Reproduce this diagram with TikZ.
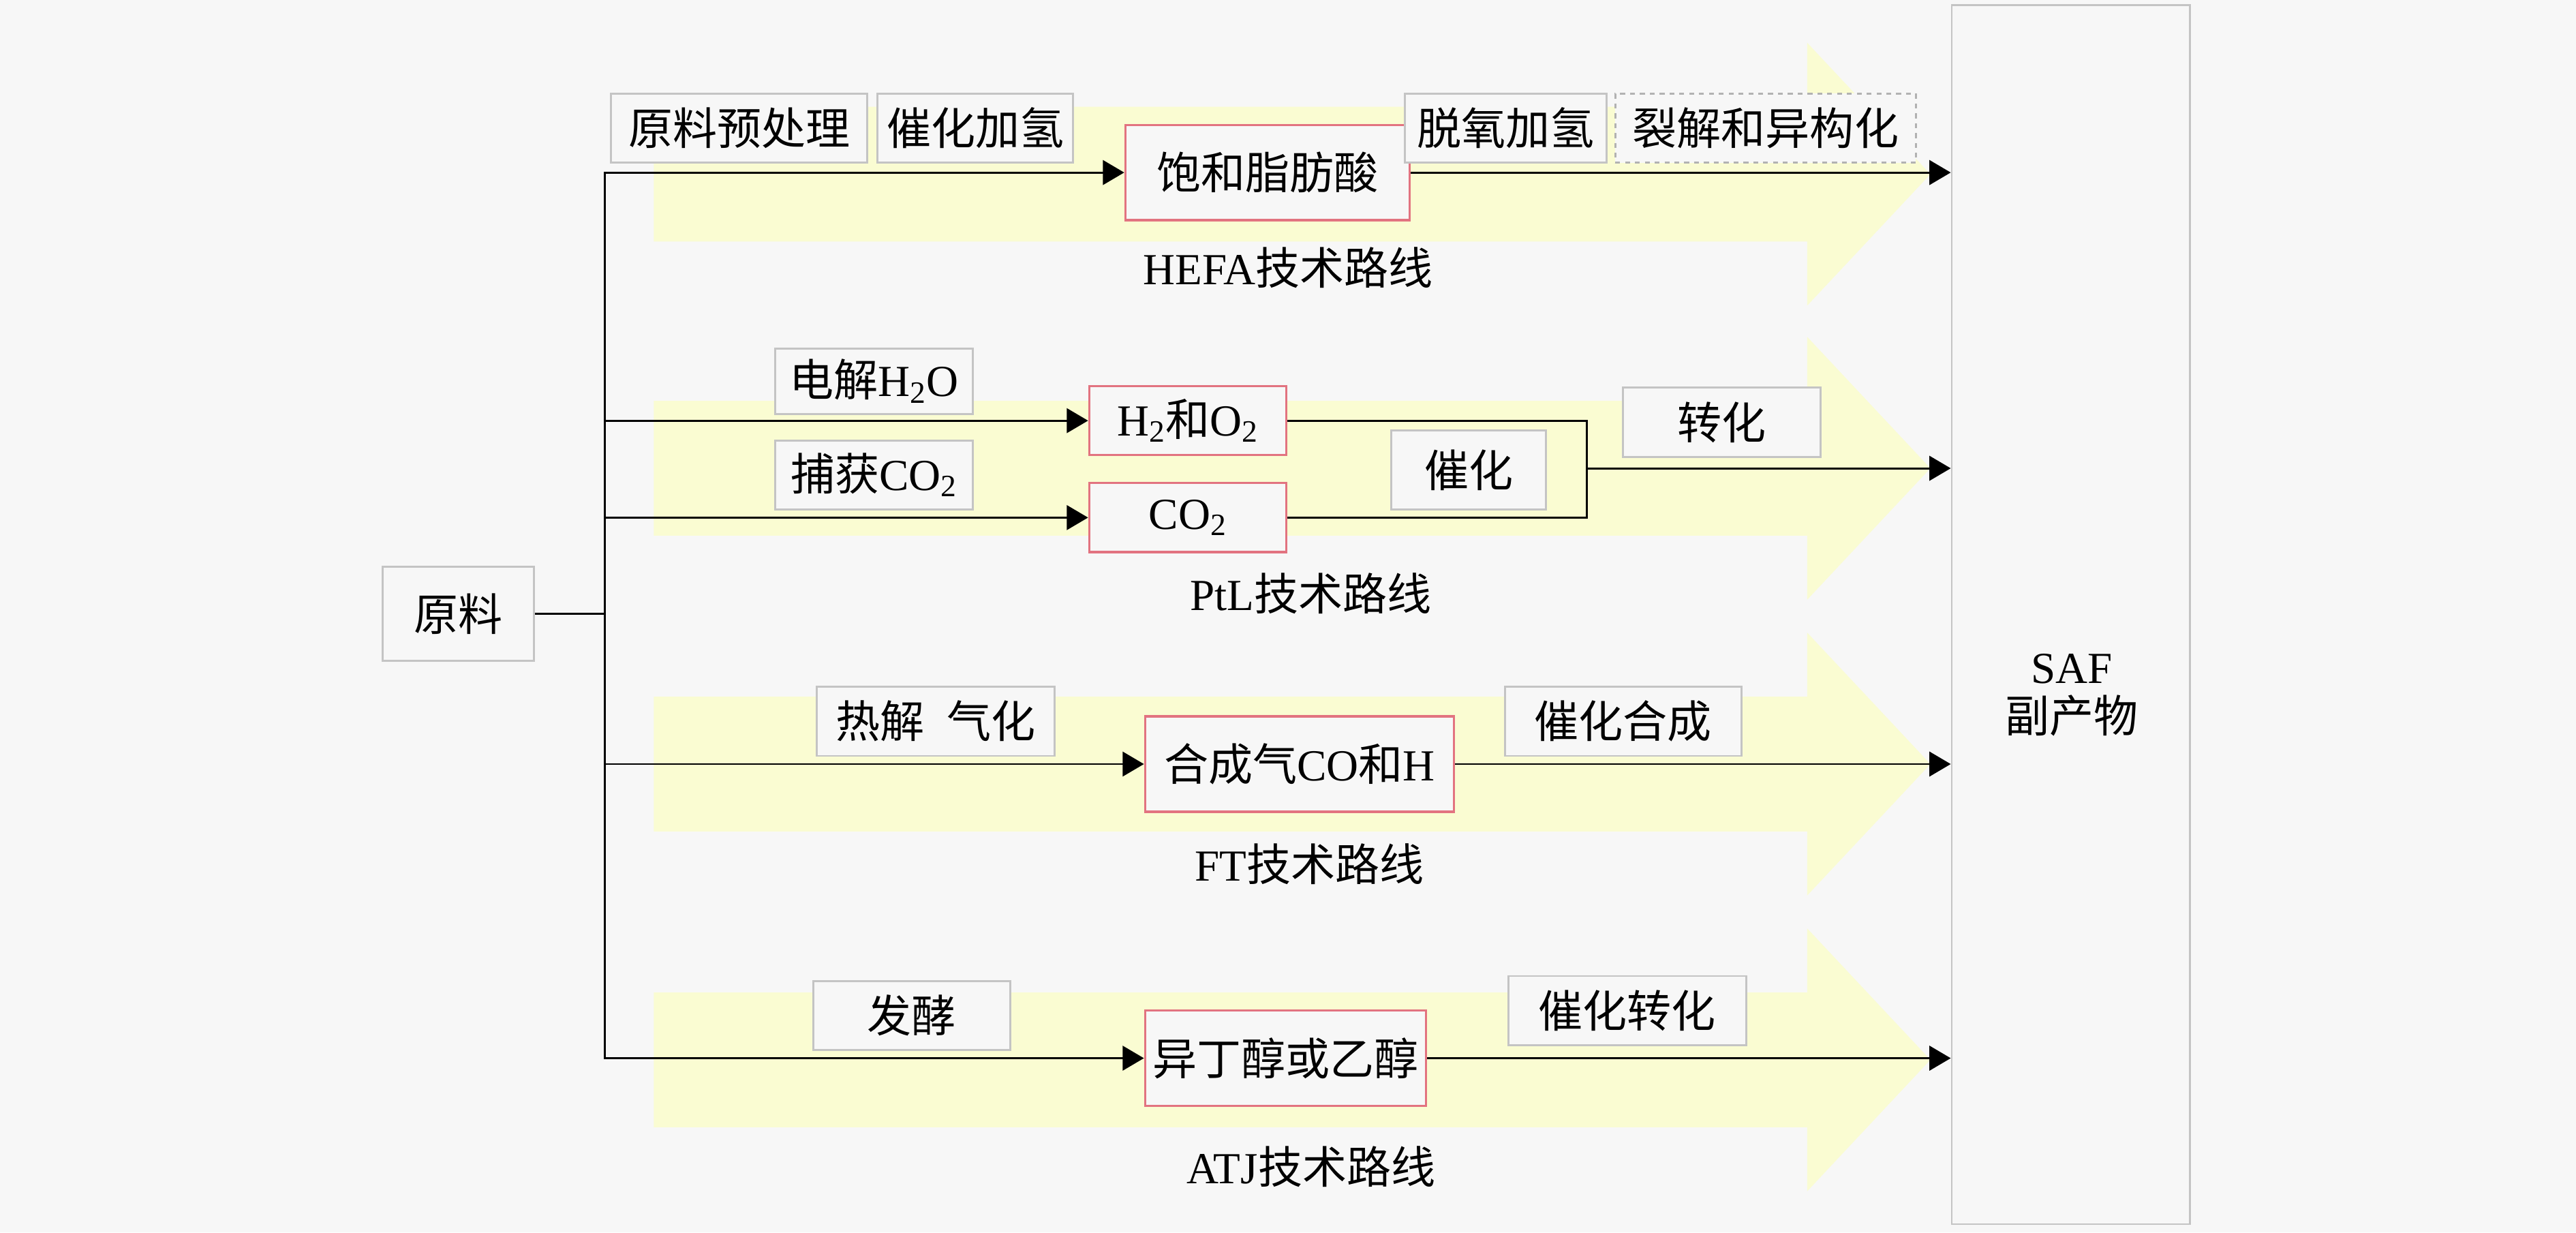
\documentclass[tikz,border=0pt]{standalone}
\usepackage{fontspec}
\setmainfont{Liberation Serif}
\newfontfamily\cjk{Noto Sans CJK SC}
\usetikzlibrary{arrows.meta,positioning}
\definecolor{pagebg}{HTML}{F7F7F7}
\definecolor{bandyellow}{HTML}{FAFCD2}
\definecolor{boxred}{HTML}{E27380}
\definecolor{boxgray}{HTML}{C4C4C4}
\newcommand\lat[1]{{\rmfamily #1}}
\tikzset{
% Step labels get a gray frame, intermediate products a red one
step box/.style={rectangle,draw=boxgray,line width=1.2,fill=pagebg,inner sep=0,minimum height=42},
product box/.style={rectangle,draw=boxred,line width=1.4,fill=pagebg,inner sep=0,minimum height=58},
route label/.style={inner sep=0},
flow/.style={line width=1.2},
flow arrow/.style={flow,-{Triangle[length=13,width=15]}}
}

\begin{document}
\begin{tikzpicture}[x=1pt,y=-1pt,font=\cjk\fontsize{27}{30}\selectfont]
  \useasboundingbox (0,0) rectangle (1568,750);
  \fill[pagebg] (0,0) rectangle (1568,750);
  % yellow route arrows
  \foreach \y in {106,285,465,645}
    \fill[bandyellow] (398,\y-41) -- (1100,\y-41) -- (1100,\y-80) -- (1175,\y)
      -- (1100,\y+80) -- (1100,\y+41) -- (398,\y+41) -- cycle;

  \node[step box, minimum width=92, minimum height=57] (raw) at (279,373.5) {原料};
  \node[rectangle, draw=boxgray, line width=1.2, fill=pagebg, inner sep=0,
    minimum width=145, minimum height=742] (saf) at (1260.5,374) {};
  \node[route label, align=center] (saftext) at (1261,423) {\lat{SAF}\\副产物};

  % HEFA
  \node[step box, minimum width=156] (pretreat) at (450,78) {原料预处理};
  \node[step box, minimum width=119, right=5pt of pretreat] (hydro) {催化加氢};
  \node[product box, minimum width=173] (fa) at (771.5,105) {饱和脂肪酸};
  \node[step box, minimum width=123] (deox) at (916.5,78) {脱氧加氢};
  \node[step box, dashed, draw=gray!60, minimum width=183, right=4pt of deox] (crack) {裂解和异构化};
  \node[route label] (hefa) at (784,163) {\lat{HEFA}技术路线};

  % PtL
  \node[step box, minimum width=120, minimum height=40] (elec) at (532,232) {电解\lat{H\textsubscript{2}O}};
  \node[step box, minimum width=120] (capture) at (532,289) {捕获\lat{CO\textsubscript{2}}};
  \node[product box, minimum width=120, minimum height=42] (h2) at (723,256) {\lat{H\textsubscript{2}}和\lat{O\textsubscript{2}}};
  \node[product box, minimum width=120, minimum height=42] (co2) at (723,315) {\lat{CO\textsubscript{2}}};
  \node[step box, minimum width=94, minimum height=48] (cat) at (894,286) {催化};
  \node[step box, minimum width=120] (conv) at (1048,257) {转化};
  \node[route label] (ptl) at (798,361) {\lat{PtL}技术路线};
  \coordinate (merge) at (966,285);

  % FT
  \node[step box, minimum width=145] (pyro) at (569.5,439) {热解\hspace{0.5em}气化};
  \node[product box, minimum width=188] (syn) at (791,465) {合成气\lat{CO}和\lat{H}};
  \node[step box, minimum width=144] (synth) at (988,439) {催化合成};
  \node[route label] (ft) at (797,526) {\lat{FT}技术路线};

  % ATJ
  \node[step box, minimum width=120] (ferm) at (555,618) {发酵};
  \node[product box, minimum width=171] (alc) at (782.5,644) {异丁醇或乙醇};
  \node[step box, minimum width=145] (catconv) at (990.5,615) {催化转化};
  \node[route label] (atj) at (798,710) {\lat{ATJ}技术路线};

  % connectors
  \coordinate (fork) at (368,373.5);
  \draw[flow] (raw) -- (fork);
  \foreach \t in {fa,h2,co2,syn,alc}
    \draw[flow arrow] (fork) |- (\t);
  \foreach \t in {fa,syn,alc}
    \draw[flow arrow] (\t) -- (\t -| saf.west);
  \draw[flow] (h2) -| (merge);
  \draw[flow] (co2) -| (merge);
  \draw[flow arrow] (merge) -- (merge -| saf.west);
\end{tikzpicture}
\end{document}
